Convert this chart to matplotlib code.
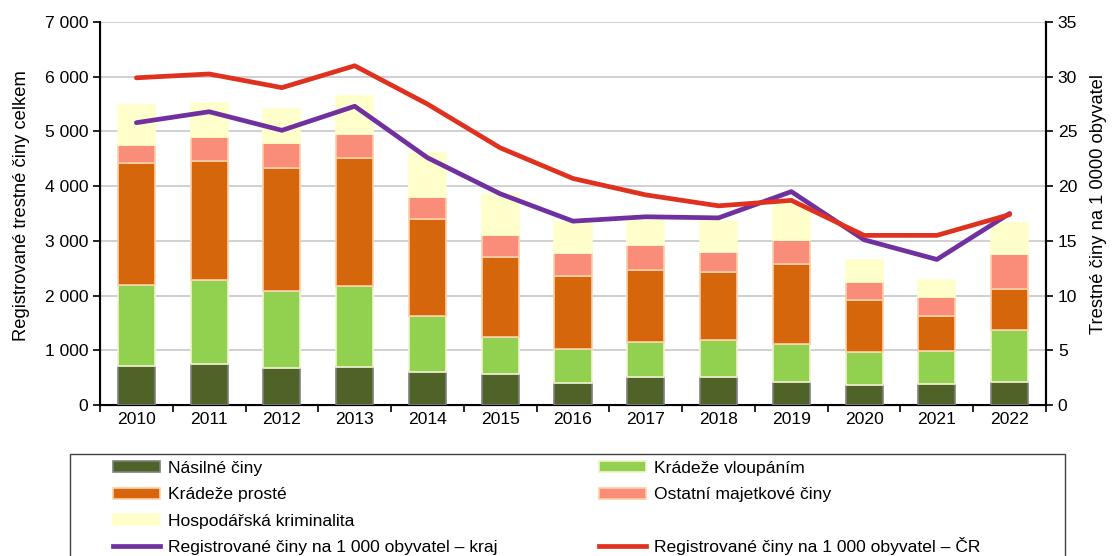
import numpy as np
import matplotlib.pyplot as plt
from matplotlib.patches import Rectangle, Patch
from matplotlib.lines import Line2D
from matplotlib.ticker import FuncFormatter, FixedLocator

plt.rcParams['font.family'] = ['Liberation Sans', 'DejaVu Sans']

roky = ['2010', '2011', '2012', '2013', '2014', '2015', '2016',
        '2017', '2018', '2019', '2020', '2021', '2022']

# cumulative readings turned into layer sizes
nasilne = [710, 755, 676, 689, 598, 561, 402, 512, 506, 426, 366, 390, 426]
vloupani = [1484, 1530, 1402, 1486, 1029, 682, 622, 640, 688, 684, 608, 603, 940]
proste = [2225, 2181, 2249, 2335, 1768, 1457, 1340, 1316, 1232, 1473, 940, 634, 749]
ostatni = [334, 428, 457, 439, 402, 402, 420, 451, 365, 439, 335, 347, 651]
hospodarska = [731, 622, 627, 705, 815, 755, 567, 463, 578, 664, 402, 311, 567]

kraj = [25.8, 26.8, 25.1, 27.3, 22.6, 19.3, 16.8, 17.2, 17.1, 19.5, 15.1, 13.3, 17.5]
cr = [29.9, 30.25, 29.0, 31.0, 27.5, 23.5, 20.7, 19.2, 18.2, 18.7, 15.5, 15.5, 17.4]

vrstvy = [
    ('Násilné činy', nasilne, '#4f6228', '#808080'),
    ('Krádeže vloupáním', vloupani, '#92d050', '#f2f2d0'),
    ('Krádeže prosté', proste, '#d5660b', '#fcd0a8'),
    ('Ostatní majetkové činy', ostatni, '#fa8c7a', '#fcd0a8'),
    ('Hospodářská kriminalita', hospodarska, '#ffffcc', '#ffffcc'),
]

fs = 12.6
W, H = 1112, 556

fig = plt.figure(figsize=(11.12, 5.56), dpi=100)
ax = fig.add_axes([100 / W, 1 - 405 / H, 946 / W, 383 / H])
x = np.arange(len(roky))

spodek = np.zeros(len(roky))
handles = []
for nazev, hodnoty, barva, okraj in vrstvy:
    ax.bar(x, hodnoty, width=0.51, bottom=spodek, color=barva,
           edgecolor=okraj, linewidth=1.2, zorder=3)
    spodek += np.array(hodnoty)
    handles.append(Patch(facecolor=barva, edgecolor=okraj, linewidth=1.2, label=nazev))

ax.set_xlim(-0.5, len(roky) - 0.5)
ax.set_ylim(0, 7000)
ax.yaxis.set_major_locator(FixedLocator(range(0, 7001, 1000)))
ax.yaxis.set_major_formatter(FuncFormatter(lambda v, p: f'{int(v):,}'.replace(',', ' ')))
ax.grid(axis='y', color='#c8c8c8', linewidth=1.2, zorder=0)
ax.set_axisbelow(True)
ax.set_xticks(x)
ax.set_xticklabels(roky)
ax.set_xticks(np.arange(-0.5, len(roky)), minor=True)
ax.tick_params(axis='x', which='major', length=0, pad=5, labelsize=fs)
ax.tick_params(axis='x', which='minor', length=5, width=1.2, direction='out')
ax.tick_params(axis='y', length=5, width=1.2, labelsize=fs)
ax.spines['top'].set_visible(False)
for s in ['left', 'bottom', 'right']:
    ax.spines[s].set_linewidth(1.5)
ax.set_ylabel('Registrované trestné činy celkem', fontsize=13.2)
ax.yaxis.set_label_coords((30 - 100) / 946, 0.52)

ax2 = ax.twinx()
ax2.plot(x, kraj, color='#7030a0', linewidth=3.4, solid_capstyle='round', zorder=5)
ax2.plot(x, cr, color='#e0301e', linewidth=3.4, solid_capstyle='round', zorder=5)
ax2.set_ylim(0, 35)
ax2.yaxis.set_major_locator(FixedLocator(range(0, 36, 5)))
ax2.tick_params(axis='y', length=5, width=1.2, labelsize=fs)
ax2.spines['top'].set_visible(False)
ax2.spines['right'].set_linewidth(1.5)
ax2.set_ylabel('Trestné činy na 1 0000 obyvatel', fontsize=13.2)
ax2.yaxis.set_label_coords((1090 - 100) / 946, 0.525)

# legend frame
fig.patches.append(Rectangle((70 / W, -0.05), 995 / W, 1 - 454 / H + 0.05,
                             transform=fig.transFigure, fill=False,
                             edgecolor='#404040', linewidth=1.0))

cara_kraj = Line2D([], [], color='#7030a0', linewidth=3.4, label='Registrované činy na 1 000 obyvatel – kraj')
cara_cr = Line2D([], [], color='#e0301e', linewidth=3.4, label='Registrované činy na 1 000 obyvatel – ČR')
prazdny = Patch(facecolor='none', edgecolor='none', label='Hospodářská kriminalita')

leg_opts = dict(frameon=False, fontsize=fs, handlelength=2.7, handleheight=0.6,
                handletextpad=0.45, labelspacing=0.65, borderpad=0.0,
                borderaxespad=0.0)

poradi = [handles[0], handles[2], handles[4], cara_kraj,
          handles[1], handles[3], prazdny]
leg = fig.legend(handles=poradi, labels=[h.get_label() for h in poradi],
                 loc='upper left', bbox_to_anchor=(113 / W, 1 - 461 / H),
                 ncol=2, columnspacing=5.8, **leg_opts)
leg.get_texts()[6].set_alpha(0)

# the ČR row goes in its own legend so its caron does not push it down
fig.canvas.draw()
r = fig.canvas.get_renderer()
x_col2 = leg.legend_handles[4].get_window_extent(r).x0
y_kraj = leg.get_texts()[3].get_window_extent(r).y0
fig.legend(handles=[cara_cr], labels=[cara_cr.get_label()],
           loc='lower left', bbox_to_anchor=(x_col2 / W, y_kraj / H), **leg_opts)

fig.savefig('out.png', dpi=100)
